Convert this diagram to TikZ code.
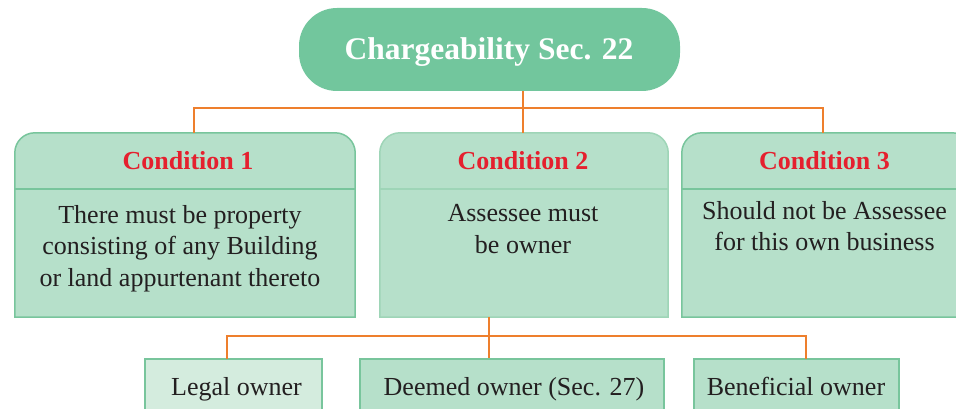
\documentclass[tikz,border=0pt]{standalone}
\usepackage{fontspec}
\setmainfont{Liberation Serif}
\definecolor{titlefill}{HTML}{72C69D}
\definecolor{boxfill}{HTML}{B6E0CA}
\definecolor{legalfill}{HTML}{D4ECDE}
\definecolor{boxline}{HTML}{78C59C}
\definecolor{boxlinelight}{HTML}{9ED5B7}
\definecolor{wireorange}{HTML}{EE7F2D}
\definecolor{headred}{HTML}{E5202E}
\definecolor{textdark}{HTML}{231F20}
\begin{document}
\begin{tikzpicture}[x=1pt,y=-1pt,
  wire/.style={draw=wireorange,line width=1.8pt},
  frame/.style={draw=boxline,line width=1.5pt,fill=boxfill},
  shell/.style={draw=none,inner sep=0pt,minimum height=184pt},
  headtxt/.style={font=\fontsize{26}{30}\selectfont\bfseries,text=headred,anchor=base,inner sep=0pt},
  bodytxt/.style={font=\fontsize{26}{31.5}\selectfont,text=textdark,align=center,anchor=north,inner sep=0pt},
  ownerbox/.style={draw=boxline,line width=1.5pt,fill=boxfill,minimum height=70pt,inner sep=0pt},
  ownertxt/.style={font=\fontsize{26}{30}\selectfont,text=textdark,anchor=base,inner sep=0pt}
]
\useasboundingbox (0,0) rectangle (956,409);
\clip (0,0) rectangle (956,409);

% title
\node[fill=titlefill,rounded corners=38pt,minimum width=381pt,minimum height=83pt,inner sep=0pt]
  (title) at (489.5,49.5) {};
\node[font=\fontsize{31.5}{36}\selectfont\bfseries,text=white,anchor=base,inner sep=0pt]
  (titletxt) at (489,60) {Chargeability Sec. 22};

% condition boxes (rounded top corners, divider under the heading)
\node[shell,minimum width=340pt] (c1) at (185,225) {};
\node[shell,minimum width=288pt] (c2) at (524,225) {};
\node[shell,minimum width=290pt] (c3) at (827,225) {};

\foreach \c/\col in {c1/boxline,c2/boxlinelight,c3/boxline}{
  \draw[frame,draw=\col] (\c.south west) -- ([yshift=-20pt]\c.north west)
    arc[start angle=180,end angle=90,radius=20pt]
    -- ([xshift=-20pt]\c.north east)
    arc[start angle=90,end angle=0,radius=20pt]
    -- (\c.south east) -- cycle;
  \draw[draw=\col,line width=1.5pt] ([yshift=-56pt]\c.north west) -- ([yshift=-56pt]\c.north east);
}

\node[headtxt] (h1) at (188,170) {Condition 1};
\node[headtxt] (h2) at (523,170) {Condition 2};
\node[headtxt] (h3) at (824.5,170) {Condition 3};

\node[bodytxt] (b1) at (180,205) {There must be property\\consisting of any Building\\or land appurtenant thereto};
\node[bodytxt] (b2) at (523,204.5) {Assessee must\\be owner};
\node[bodytxt] (b3) at (824.5,201) {Should not be Assessee\\for this own business};

% owner boxes
\node[ownerbox,fill=legalfill,minimum width=177pt] (o1) at (233.5,394) {};
\node[ownerbox,minimum width=304pt] (o2) at (512,394) {};
\node[ownerbox,minimum width=205pt] (o3) at (796.5,394) {};

\node[ownertxt] (t1) at (236.5,395) {Legal owner};
\node[ownertxt] (t2) at (514,395) {Deemed owner (Sec. 27)};
\node[ownertxt] (t3) at (796,395) {Beneficial owner};

% connectors
\coordinate (busA) at (523,108);
\coordinate (in1) at (194,133);
\coordinate (in3) at (823,133);
\draw[wire] (title.south -| busA) -- (busA) -- (c2.north -| busA);
\draw[wire] (in1) |- (busA) -| (in3);

\coordinate (busB) at (489,336);
\coordinate (out1) at (227,359);
\coordinate (out3) at (806,359);
\draw[wire] (c2.south -| busB) -- (o2.north -| busB);
\draw[wire] (out1) |- (busB) -| (out3);
\end{tikzpicture}
\end{document}
